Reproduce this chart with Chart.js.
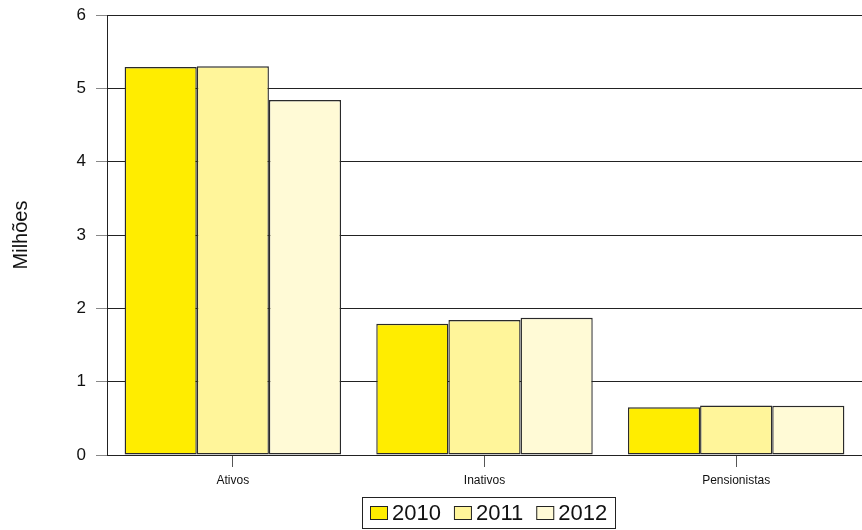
<!DOCTYPE html>
<html><head><meta charset="utf-8">
<script src="https://cdn.jsdelivr.net/npm/chart.js@4/dist/chart.umd.min.js"></script>
<style>html,body{margin:0;padding:0;background:#fff}#w{width:862px;height:530px;position:relative}</style>
</head><body><div id="w"><canvas id="c"></canvas></div>
<script>
const categories = ["Ativos", "Inativos", "Pensionistas"];
const seriesNames = ["2010", "2011", "2012"];
const values2010 = [5.29, 1.79, 0.65];
const values2011 = [5.30, 1.84, 0.675];
const values2012 = [4.84, 1.87, 0.67];
const yTicks = [0, 1, 2, 3, 4, 5, 6];
const colors = ["#ffed00", "#fff59a", "#fffad6"];
const FONT = "'Liberation Sans', Arial, Helvetica, sans-serif";

// custom legend drawn on the canvas, with a frame
const boxedLegend = {
  id: 'boxedLegend',
  afterDraw(chart) {
    const ctx = chart.ctx;
    const ds = chart.data.datasets;
    ctx.save();
    ctx.font = "22px " + FONT;
    const boxW = 18, boxH = 14, gapBT = 4, gapItems = 13, pad = 8;
    const widths = ds.map(d => ctx.measureText(d.label).width);
    const total = pad * 2 + widths.reduce((a, w) => a + boxW + gapBT + w, 0) + gapItems * (ds.length - 1);
    const cx = (chart.chartArea.left + chart.chartArea.right) / 2 + 4;
    const left = Math.round(cx - total / 2);
    const top = 497, height = 31;
    ctx.strokeStyle = '#222';
    ctx.lineWidth = 1;
    ctx.strokeRect(left + 0.5, top + 0.5, Math.round(total), height);
    let x = left + pad;
    const midY = top + height / 2 + 0.5;
    ds.forEach((d, i) => {
      ctx.fillStyle = d.backgroundColor;
      ctx.fillRect(x, Math.round(midY - boxH / 2), boxW, boxH);
      ctx.strokeStyle = '#222';
      ctx.strokeRect(x + 0.5, Math.round(midY - boxH / 2) + 0.5, boxW - 1, boxH - 1);
      ctx.fillStyle = '#111';
      ctx.textBaseline = 'middle';
      ctx.textAlign = 'left';
      ctx.fillText(d.label, x + boxW + gapBT, midY + 1);
      x += boxW + gapBT + widths[i] + gapItems;
    });
    ctx.restore();
  }
};

new Chart(document.getElementById('c'), {
  type: 'bar',
  data: {
    labels: categories,
    datasets: [values2010, values2011, values2012].map((v, i) => ({
      label: seriesNames[i], data: v, backgroundColor: colors[i],
      borderColor: '#2a2a2a', borderWidth: 1.4, borderSkipped: false,
      categoryPercentage: 0.86, barPercentage: 1.0
    }))
  },
  options: {
    responsive: true, maintainAspectRatio: false, animation: false,
    layout: { padding: { top: 0, right: 0, bottom: 45, left: 0 } },
    plugins: {
      tooltip: { enabled: false },
      legend: { display: false }
    },
    scales: {
      x: {
        afterFit: (s) => { s.height = 30; },
        grid: { display: true, drawOnChartArea: false, drawTicks: true, tickLength: 12, color: '#555', tickColor: '#555', offset: false },
        border: { display: true, color: '#222', width: 1 },
        ticks: { color: '#111', font: { family: FONT, size: 12 }, padding: 6 }
      },
      y: {
        min: 0, max: 6,
        afterFit: (s) => { s.width = 107; s.paddingTop = 15; s.paddingBottom = 0; },
        afterBuildTicks: (s) => { s.ticks = yTicks.map(v => ({ value: v })); },
        grid: { color: '#222', tickColor: '#888', lineWidth: 1, tickLength: 11, drawTicks: true },
        border: { display: true, color: '#222', width: 1 },
        ticks: { color: '#111', font: { family: FONT, size: 17 }, padding: 10 },
        title: { display: true, text: 'Milhões', color: '#111', font: { family: FONT, size: 20 }, padding: { top: 9, bottom: 0 } }
      }
    }
  },
  plugins: [boxedLegend]
});
</script></body></html>
